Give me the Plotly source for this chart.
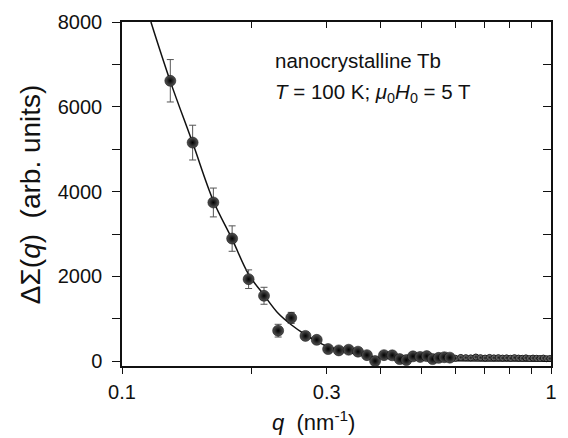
import plotly.graph_objects as go

# ---- data ----
q_nm = [0.1296, 0.1461, 0.1633, 0.1806, 0.1973, 0.2143, 0.2312, 0.2480, 0.2677, 0.2844,
        0.3023, 0.3201, 0.3375, 0.3549, 0.3723, 0.3890, 0.4080, 0.4265, 0.4440, 0.4600,
        0.4767, 0.4954, 0.5133, 0.5299, 0.547, 0.564, 0.581, 0.599, 0.616, 0.633,
        0.650, 0.668, 0.685, 0.702, 0.719, 0.736, 0.754, 0.771, 0.788, 0.805,
        0.822, 0.840, 0.857, 0.874, 0.891, 0.908, 0.926, 0.943, 0.960, 0.977, 0.994]
dsigma = [6614, 5156, 3744, 2893, 1935, 1544, 721, 1023, 598, 505,
          288, 256, 272, 226, 144, 5, 144, 140, 51, 28,
          116, 102, 121, 51, 80, 95, 85, 70, 90, 85,
          80, 100, 85, 75, 90, 80, 85, 75, 80, 70,
          85, 75, 70, 80, 65, 75, 70, 65, 75, 60, 65]
dsigma_err = [500, 410, 340, 300, 220, 200, 150, 130, 90, 80,
              70, 60, 55, 50, 45, 45, 40, 40, 40, 40,
              35, 35, 35, 35, 30, 30, 30, 30, 30, 30,
              30, 30, 30, 30, 30, 30, 30, 30, 30, 30,
              30, 30, 30, 30, 30, 30, 30, 30, 30, 30, 30]

fit_q = [0.1168, 0.1296, 0.1461, 0.1633, 0.1806, 0.1973, 0.2143, 0.2312, 0.2480, 0.2677,
         0.2844, 0.3023, 0.3201, 0.3375, 0.36, 0.39, 0.43, 0.50, 0.60, 0.80, 1.0]
fit_y = [8000, 6600, 5150, 3780, 2880, 2050, 1560, 1130, 860, 625,
         470, 345, 275, 210, 150, 100, 60, 30, 12, 4, 1]

x_tickvals = [0.1, 0.2, 0.3, 0.4, 0.5, 0.6, 0.7, 0.8, 0.9, 1.0]
x_ticktext = ["0.1", "", "0.3", "", "", "", "", "", "", "1"]
y_tickvals = [0, 1000, 2000, 3000, 4000, 5000, 6000, 7000, 8000]
y_ticktext = ["0", "", "2000", "", "4000", "", "6000", "", "8000"]

n_large = 27
FONT = "Arial, Liberation Sans, sans-serif"
INK = "#111111"

fig = go.Figure()

fig.add_trace(go.Scatter(
    x=fit_q, y=fit_y, mode="lines", line=dict(color=INK, width=1.5, shape="spline"),
    showlegend=False, hoverinfo="skip"))

fig.add_trace(go.Scatter(
    x=q_nm[n_large:], y=dsigma[n_large:], mode="markers",
    error_y=dict(type="data", array=dsigma_err[n_large:], color="#666666", thickness=1, width=2),
    marker=dict(size=6, color="#8a8a8a", line=dict(color="#1a1a1a", width=1),
                gradient=dict(type="radial", color="#1a1a1a")),
    showlegend=False))

fig.add_trace(go.Scatter(
    x=q_nm[:n_large], y=dsigma[:n_large], mode="markers",
    error_y=dict(type="data", array=dsigma_err[:n_large], color="#555555", thickness=1, width=3.5),
    marker=dict(size=11, color="#555555", line=dict(color="#000000", width=0.5),
                gradient=dict(type="radial", color="#000000")),
    showlegend=False))

# invisible trace to carry the mirrored top/right axes
fig.add_trace(go.Scatter(x=q_nm, y=dsigma, xaxis="x2", yaxis="y2", mode="markers",
                         marker=dict(opacity=0), showlegend=False, hoverinfo="skip"))

axis_common = dict(showline=True, linecolor=INK, linewidth=1.5, tickcolor=INK,
                   tickwidth=1.2, showgrid=False, zeroline=False,
                   tickfont=dict(family=FONT, size=20, color=INK))

fig.update_layout(
    width=568, height=438,
    margin=dict(l=122, r=11, t=17, b=72),
    paper_bgcolor="white", plot_bgcolor="white",
    font=dict(family=FONT, color=INK),
    xaxis=dict(type="log", range=[-1, 0], tickmode="array", tickvals=x_tickvals,
               ticktext=x_ticktext, ticks="outside", ticklen=6, ticklabelstandoff=1,
               **axis_common),
    yaxis=dict(range=[-112, 8000], tickmode="array", tickvals=y_tickvals,
               ticktext=y_ticktext, ticks="outside", ticklen=8, ticklabelstandoff=6,
               **axis_common),
    xaxis2=dict(type="log", range=[-1, 0], overlaying="x", side="top", anchor="y",
                tickmode="array", tickvals=x_tickvals, ticks="inside", ticklen=6,
                showticklabels=False, **axis_common),
    yaxis2=dict(range=[-112, 8000], overlaying="y", side="right", anchor="x",
                tickmode="array", tickvals=y_tickvals, ticks="inside", ticklen=8,
                showticklabels=False, **axis_common),
)

fig.add_annotation(xref="paper", yref="paper", x=-0.214, y=0.5,
                   text="ΔΣ(<i>q</i>)\u00a0\u00a0(arb. units)", textangle=-90,
                   showarrow=False, font=dict(family=FONT, size=28, color=INK),
                   xanchor="center", yanchor="middle")
fig.add_annotation(xref="paper", yref="paper", x=0.447, y=-0.159,
                   text="<i>q</i>\u00a0\u00a0(nm<sup>-1</sup>)",
                   showarrow=False, font=dict(family=FONT, size=22, color=INK),
                   xanchor="center", yanchor="middle")
fig.add_annotation(xref="paper", yref="paper", x=0.352, y=0.887,
                   text="nanocrystalline Tb",
                   showarrow=False, font=dict(family=FONT, size=20.5, color=INK),
                   xanchor="left", yanchor="middle")
fig.add_annotation(xref="paper", yref="paper", x=0.352, y=0.795,
                   text="<i>T</i> = 100 K; <i>μ</i><sub>0</sub><i>H</i><sub>0</sub> = 5 T",
                   showarrow=False, font=dict(family=FONT, size=20.5, color=INK),
                   xanchor="left", yanchor="middle")

fig.write_html("out.html", config={"displayModeBar": False},
               post_script="document.body.style.margin='0';document.body.style.padding='0';")
